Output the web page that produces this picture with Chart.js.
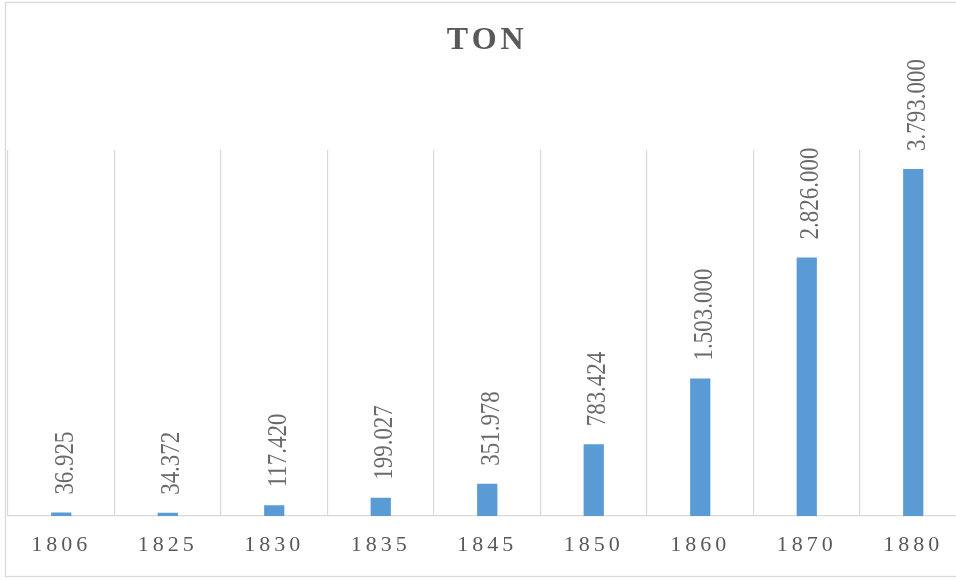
<!DOCTYPE html>
<html>
<head>
<meta charset="utf-8">
<script src="https://cdn.jsdelivr.net/npm/chart.js@4/dist/chart.umd.min.js"></script>
<style>
  html, body { margin: 0; padding: 0; background: #fff; overflow: hidden; }
  #wrap { width: 956px; height: 581px; overflow: hidden; }
</style>
</head>
<body>
<div id="wrap"><canvas id="tonChart" width="970" height="581"></canvas></div>
<script>
const years = ['1806', '1825', '1830', '1835', '1845', '1850', '1860', '1870', '1880'];
const tons = [36925, 34372, 117420, 199027, 351978, 783424, 1503000, 2826000, 3793000];
const yMin = 0;
const yMax = 4000000;

const textGray = '#595959';
const labelGray = '#6a6a6a';
const gridGray = '#d9d9d9';
const barBlue = '#5b9bd5';

function formatTon(v) {
    return String(v).replace(/\B(?=(\d{3})+(?!\d))/g, '.');
}

// white background, outer border, letter spacing for all text
const framePlugin = {
    id: 'frame',
    beforeDraw(chart) {
        const ctx = chart.ctx;
        ctx.save();
        ctx.fillStyle = '#fff';
        ctx.fillRect(0, 0, chart.width, chart.height);
        ctx.strokeStyle = gridGray;
        ctx.lineWidth = 1.3;
        ctx.strokeRect(5.5, 2.5, 960, 574);
        ctx.restore();
        ctx.letterSpacing = '4px';
    }
};

// values above the bars, rotated, a bit condensed like the original
const valueLabels = {
    id: 'valueLabels',
    afterDatasetsDraw(chart) {
        const ctx = chart.ctx;
        const meta = chart.getDatasetMeta(0);
        ctx.save();
        ctx.font = '28px "Liberation Serif", "Times New Roman", serif';
        ctx.fillStyle = labelGray;
        ctx.letterSpacing = '0px';
        ctx.textAlign = 'left';
        ctx.textBaseline = 'alphabetic';
        meta.data.forEach((bar, i) => {
            ctx.save();
            ctx.translate(bar.x + 11.5, bar.y - 18);
            ctx.rotate(-Math.PI / 2);
            ctx.scale(0.82, 1);
            ctx.fillText(formatTon(tons[i]), 0, 0);
            ctx.restore();
        });
        ctx.restore();
    }
};

new Chart(document.getElementById('tonChart'), {
    type: 'bar',
    data: {
        labels: years,
        datasets: [{
            label: 'TON',
            data: tons,
            backgroundColor: barBlue,
            borderWidth: 0,
            categoryPercentage: 1,
            barPercentage: 0.19
        }]
    },
    options: {
        responsive: false,
        animation: false,
        layout: { padding: { left: 8, right: 3.5, top: 0, bottom: 15 } },
        plugins: {
            legend: { display: false },
            tooltip: { enabled: false },
            title: {
                display: true,
                text: 'TON',
                color: textGray,
                font: { family: '"Liberation Serif", "Times New Roman", serif', size: 32, weight: 'bold' },
                padding: { top: 22, bottom: 89.6 }
            }
        },
        scales: {
            x: {
                offset: true,
                grid: { offset: true, color: gridGray, lineWidth: 1.2, drawTicks: false },
                border: { display: true, color: gridGray, width: 1.2 },
                ticks: {
                    color: textGray,
                    padding: 16,
                    font: { family: '"Liberation Serif", "Times New Roman", serif', size: 22 }
                },
                afterFit(scale) { scale.height = 50; }
            },
            y: {
                display: false,
                min: yMin,
                max: yMax
            }
        }
    },
    plugins: [framePlugin, valueLabels]
});
</script>
</body>
</html>
